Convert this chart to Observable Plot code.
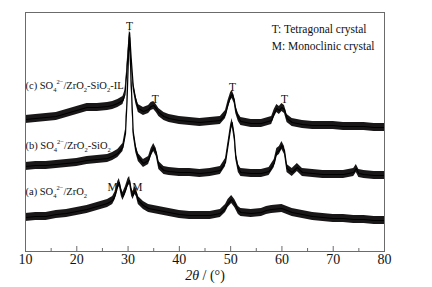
<!DOCTYPE html>
<html><head><meta charset="utf-8">
<script src="https://cdn.jsdelivr.net/npm/d3@7"></script>
<script src="https://cdn.jsdelivr.net/npm/@observablehq/plot@0.6"></script>
<style>
html,body{margin:0;padding:0;background:#fff;}
svg{font-family:"Liberation Serif","Times New Roman",serif;}
</style>
</head><body>
<div id="chart"></div>
<script>
// 2θ positions and intensities (arbitrary units, stacked offsets)
const xC = [10,12,14,16,18,20,22,24,26,27,28,29,29.4,29.7,30,30.3,30.6,31,31.5,32,33,34,34.5,35,35.5,36,37,38,40,42,44,46,48,49,49.5,50,50.3,50.7,51,51.5,52,54,56,58,58.5,59,59.5,60,60.5,61,62,64,66,68,70,72,74,76,78,80];
const yC = [132,133,134,135,138,141,144,144,145,146,148,151,157,176,198,219,194,166,152,143,140,142,145,146,143,139,135,133,131,130,129,130,131,137,147,155,157,152,142,134,130,128,128,131,138,143,141,144,142,133,129,127,126,126,126,125,125,125,124,124];
const xB = [10,12,14,16,18,20,22,24,26,27,28,29,29.5,29.8,30.1,30.3,30.6,31,31.5,32,33,34,34.5,35,35.5,36,37,38,40,42,44,46,48,49,49.5,50,50.3,50.7,51,51.5,52,54,56,57.5,58.5,59,59.5,60,60.5,61,62,63,64,66,68,70,72,74,74.5,75,76,78,80];
const yB = [85,86,86,87,88,89,91,92,93,95,98,104,118,150,198,214,170,120,103,94,88,91,99,104,99,86,81,80,79,79,78,79,81,89,106,123,129,116,96,83,79,78,78,80,88,99,101,106,101,83,79,84,79,78,77,77,77,79,83,78,77,76,76];
const xA = [10,12,14,16,18,20,22,24,26,27,27.5,28,28.3,28.7,29,29.5,30,30.3,30.7,31,31.3,31.6,32,33,34,36,38,40,42,44,46,48,49,49.5,50.2,50.8,51.5,52,54,56,57,58,60,61,62,64,66,68,70,72,74,76,78,80];
const yA = [34,35,35,37,38,40,42,45,48,51,56,66,69,59,55,61,69,71,59,56,61,59,51,46,43,41,39,37,36,36,36,38,43,48,52,48,41,39,38,39,41,42,43,41,39,37,35,34,33,33,32,32,31,31];
// noise band half-height for each trace
const noiseHalf = [4, 4, 4];
const xTicksMajor = [10,20,30,40,50,60,70,80];
const xTicksMinor = [15,25,35,45,55,65,75];

const traces = [[xC,yC],[xB,yB],[xA,yA]];
const data = traces.flatMap(([xs,ys],k) => xs.map((x,i)=>({s:k,x,y:ys[i],lo:ys[i]-noiseHalf[k],hi:ys[i]+noiseHalf[k]})));

const plot = Plot.plot({
  width: 432, height: 287,
  marginTop: 12, marginBottom: 36, marginLeft: 25, marginRight: 48,
  style: {fontFamily: '"Liberation Serif","Times New Roman",serif', fontSize: "14px", color: "#111", background: "#fff"},
  x: {domain: [10, 80], label: null},
  y: {domain: [0, 239], axis: null},
  marks: [
    Plot.areaY(data, {x: "x", y1: "lo", y2: "hi", z: "s", fill: "#1a1718"}),
    Plot.line(data, {x: "x", y: "y", z: "s", stroke: "#000", strokeWidth: 1.2}),
    Plot.frame({stroke: "#6b6b6b", strokeWidth: 1}),
    Plot.axisX(xTicksMajor, {tickSize: -5, tickPadding: 8, stroke: "#6b6b6b", fontSize: 14, label: null}),
    Plot.axisX(xTicksMinor, {tickSize: -3, text: null, stroke: "#6b6b6b", label: null}),
    Plot.text(["T"], {x: [30.27], y: [225], fontSize: 11.5, textAnchor: "middle"}),
    Plot.text(["T"], {x: [35.3], y: [152], fontSize: 11.5, textAnchor: "middle"}),
    Plot.text(["T"], {x: [50.35], y: [164], fontSize: 11.5, textAnchor: "middle"}),
    Plot.text(["T"], {x: [60.5], y: [152], fontSize: 11.5, textAnchor: "middle"}),
    Plot.text(["M"], {x: [27.0], y: [64], fontSize: 11.5, textAnchor: "middle"}),
    Plot.text(["M"], {x: [31.8], y: [64], fontSize: 11.5, textAnchor: "middle"}),
    Plot.text(["T: Tetragonal crystal", "M: Monoclinic crystal"], {x: [58.0, 58.0], y: [222, 205], fontSize: 11.5, textAnchor: "start"})
  ]
});
document.getElementById("chart").append(plot);

// rich-text sample labels (sub/superscripts), positioned through the plot's scales
const sx = plot.scale("x"), sy = plot.scale("y");
const svg = d3.select(plot);
const labels = [
  {pre: "(c) ", tail: "-IL", x: 10.1, y: 162, si: true},
  {pre: "(b) ", tail: "", x: 10.1, y: 102, si: true},
  {pre: "(a) ", tail: "", x: 10.1, y: 56, si: false}
];
for (const L of labels) {
  const t = svg.append("text").attr("x", sx.apply(L.x)).attr("y", sy.apply(L.y))
    .attr("text-anchor", "start").attr("font-size", 10.5).attr("fill", "#111");
  t.append("tspan").text(L.pre + "SO");
  t.append("tspan").attr("font-size", 6.5).attr("dy", 3).text("4");
  t.append("tspan").attr("font-size", 6.5).attr("dy", -8).text("2−");
  t.append("tspan").attr("dy", 5).text("/ZrO");
  t.append("tspan").attr("font-size", 6.5).attr("dy", 3).text("2");
  if (L.si) {
    t.append("tspan").attr("dy", -3).text("-SiO");
    t.append("tspan").attr("font-size", 6.5).attr("dy", 3).text("2");
    if (L.tail) t.append("tspan").attr("dy", -3).text(L.tail);
  }
}
// x-axis title
const xt = svg.append("text").attr("x", sx.apply(45.1)).attr("y", 280).attr("text-anchor", "middle")
  .attr("font-size", 14).attr("fill", "#111");
xt.append("tspan").attr("font-style", "italic").text("2θ");
xt.append("tspan").text(" / (°)");
</script>
</body></html>
